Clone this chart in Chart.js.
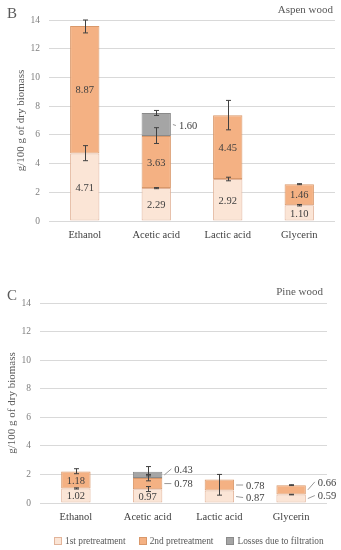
<!DOCTYPE html>
<html>
<head>
<meta charset="utf-8">
<script src="https://cdn.jsdelivr.net/npm/chart.js@4.4.1/dist/chart.umd.min.js"></script>
<style>
  body { margin: 0; background: #fff; }
  #wrap { position: relative; width: 341px; height: 550px; overflow: hidden; font-family: "Liberation Serif", serif; }
  canvas { position: absolute; left: 0; }
  .tag { position: absolute; color: #595959; }
  #leyenda { position: absolute; left: 54px; top: 535px; display: flex; font-size: 9.4px; color: #595959; white-space: nowrap; line-height: 12px; }
  #leyenda span.item { display: flex; align-items: center; margin-right: 13px; }
  #leyenda i { display: inline-block; width: 6px; height: 6px; margin-right: 3px; border: 1px solid; }
</style>
</head>
<body>
<div id="wrap">
  <canvas id="grafico_b" width="341" height="255" style="top:0"></canvas>
  <canvas id="grafico_c" width="341" height="290" style="top:260px"></canvas>
  <div class="tag" style="left:7px;top:5px;font-size:15px;">B</div>
  <div class="tag" style="right:8px;top:3px;font-size:11px;">Aspen wood</div>
  <div class="tag" style="left:7px;top:287px;font-size:15px;">C</div>
  <div class="tag" style="right:18px;top:285px;font-size:11px;">Pine wood</div>
  <div id="leyenda"></div>
</div>
<script>
const categorias = ['Ethanol', 'Acetic acid', 'Lactic acid', 'Glycerin'];
const series = ['1st pretreatment', '2nd pretreatment', 'Losses due to filtration'];
const ticksY = [0, 2, 4, 6, 8, 10, 12, 14];

// Aspen wood (B)
const aspen1 = [4.71, 2.29, 2.92, 1.10];
const aspen2 = [8.87, 3.63, 4.45, 1.46];
const aspenLoss = [0, 1.60, 0, 0];
// error bars, [low, high] in g/100 g
const aspenErr1 = [[4.2, 5.25], [2.25, 2.33], [2.8, 3.05], [1.05, 1.15]];
const aspenErr2 = [[13.1, 14.0], [5.4, 6.5], [6.35, 8.4], [2.53, 2.6]];
const aspenErrLoss = [null, [7.35, 7.7], null, null];

// Pine wood (C)
const pine1 = [1.02, 0.97, 0.87, 0.59];
const pine2 = [1.18, 0.78, 0.78, 0.66];
const pineLoss = [0, 0.43, 0, 0];
const pineErr1 = [[0.98, 1.06], [0.8, 1.15], null, [0.57, 0.61]];
const pineErr2 = [[2.05, 2.4], [1.55, 2.0], [0.55, 2.0], [1.22, 1.28]];
const pineErrLoss = [null, [1.9, 2.55], null, null];

const colores = ['#fbe5d6', '#f4b183', '#a5a5a5'];
const bordes = ['#e2b49a', '#d9986a', '#8a8a8a'];
const fuente = '"Liberation Serif", serif';

// where each value label goes: 'in' = centred in the segment, number = outside, shifted by that many px
const aspenPos = [['in', 'in', 'in', 'in'], ['in', 'in', 'in', 'in'], [null, 1, null, null]];
const pinePos = [['in', 'in', 1, -3], ['in', 0, 0, -8], [null, -6, null, null]];

const errorBars = {
    id: 'errorBars',
    afterDatasetsDraw(chart, args, opts) {
        const ctx = chart.ctx, y = chart.scales.y;
        ctx.save();
        ctx.strokeStyle = '#404040';
        ctx.lineWidth = 1;
        opts.errs.forEach(function(errs, i) {
            const meta = chart.getDatasetMeta(i);
            errs.forEach(function(e, j) {
                if (!e) return;
                const x = Math.round(meta.data[j].x) + 0.5;
                const y1 = y.getPixelForValue(e[0]), y2 = y.getPixelForValue(e[1]);
                ctx.beginPath();
                ctx.moveTo(x, y1); ctx.lineTo(x, y2);
                ctx.moveTo(x - 2.5, y1); ctx.lineTo(x + 2.5, y1);
                ctx.moveTo(x - 2.5, y2); ctx.lineTo(x + 2.5, y2);
                ctx.stroke();
            });
        });
        ctx.restore();
    }
};

const valueLabels = {
    id: 'valueLabels',
    afterDatasetsDraw(chart, args, opts) {
        const ctx = chart.ctx;
        ctx.save();
        ctx.font = '10.5px ' + fuente;
        ctx.fillStyle = '#404040';
        ctx.strokeStyle = '#7f7f7f';
        ctx.lineWidth = 0.8;
        ctx.textBaseline = 'middle';
        chart.data.datasets.forEach(function(ds, i) {
            const meta = chart.getDatasetMeta(i);
            ds.data.forEach(function(v, j) {
                const pos = opts.pos[i][j];
                if (!v || pos === null) return;
                const bar = meta.data[j];
                const mid = (bar.y + bar.base) / 2;
                const txt = v.toFixed(2);
                if (pos === 'in') {
                    ctx.textAlign = 'center';
                    ctx.fillText(txt, bar.x, mid + 1);
                } else {
                    const right = bar.x + bar.width / 2;
                    ctx.beginPath();
                    ctx.moveTo(right + 2, mid);
                    ctx.lineTo(right + opts.gap - 3, mid + pos);
                    ctx.stroke();
                    ctx.textAlign = 'left';
                    ctx.fillText(txt, right + opts.gap, mid + pos + 1);
                }
            });
        });
        ctx.restore();
    }
};

function armarDatos(d1, d2, d3) {
    return {
        labels: categorias,
        datasets: [d1, d2, d3].map(function(d, i) {
            return {
                label: series[i],
                data: d,
                backgroundColor: colores[i],
                borderColor: bordes[i],
                borderWidth: 1,
                borderSkipped: false,
                barPercentage: 0.41,
                categoryPercentage: 1
            };
        })
    };
}

function escalas(yWidth, xHeight, titlePad) {
    return {
        x: {
            stacked: true,
            grid: { display: false },
            border: { display: false },
            ticks: { color: '#404040', font: { family: fuente, size: 10.5 }, padding: 0 },
            afterFit: function(s) { s.height = xHeight; }
        },
        y: {
            stacked: true,
            min: 0,
            max: 14,
            afterBuildTicks: function(s) { s.ticks = ticksY.map(function(v) { return { value: v }; }); },
            grid: { color: '#d9d9d9', drawTicks: false },
            border: { display: false },
            ticks: { color: '#7f7f7f', font: { family: fuente, size: 9.5 }, padding: 9 },
            title: { display: true, text: 'g/100 g of dry biomass', color: '#595959', font: { family: fuente, size: 11 }, padding: { top: titlePad, bottom: 0 } },
            afterFit: function(s) { s.width = yWidth; }
        }
    };
}

document.addEventListener("DOMContentLoaded", function() {
    Chart.defaults.font.family = fuente;

    // legend under panel C, built from the series names and colours
    var ley = document.getElementById('leyenda');
    series.forEach(function(s, i) {
        var it = document.createElement('span');
        it.className = 'item';
        it.innerHTML = '<i style="background:' + colores[i] + ';border-color:' + bordes[i] + '"></i>' + s;
        ley.appendChild(it);
    });

    new Chart(document.getElementById('grafico_b'), {
        type: 'bar',
        data: armarDatos(aspen1, aspen2, aspenLoss),
        options: {
            responsive: false,
            animation: false,
            layout: { padding: { top: 20, right: 6, left: 0, bottom: 0 } },
            scales: escalas(49, 34, 15),
            plugins: {
                legend: { display: false },
                tooltip: { enabled: false },
                errorBars: { errs: [aspenErr1, aspenErr2, aspenErrLoss] },
                valueLabels: { pos: aspenPos, gap: 8 }
            }
        },
        plugins: [errorBars, valueLabels]
    });

    new Chart(document.getElementById('grafico_c'), {
        type: 'bar',
        data: armarDatos(pine1, pine2, pineLoss),
        options: {
            responsive: false,
            animation: false,
            layout: { padding: { top: 43, right: 14, left: 0, bottom: 0 } },
            scales: escalas(40, 47, 6),
            plugins: {
                legend: { display: false },
                tooltip: { enabled: false },
                errorBars: { errs: [pineErr1, pineErr2, pineErrLoss] },
                valueLabels: { pos: pinePos, gap: 12 }
            }
        },
        plugins: [errorBars, valueLabels]
    });
});
</script>
</body>
</html>
